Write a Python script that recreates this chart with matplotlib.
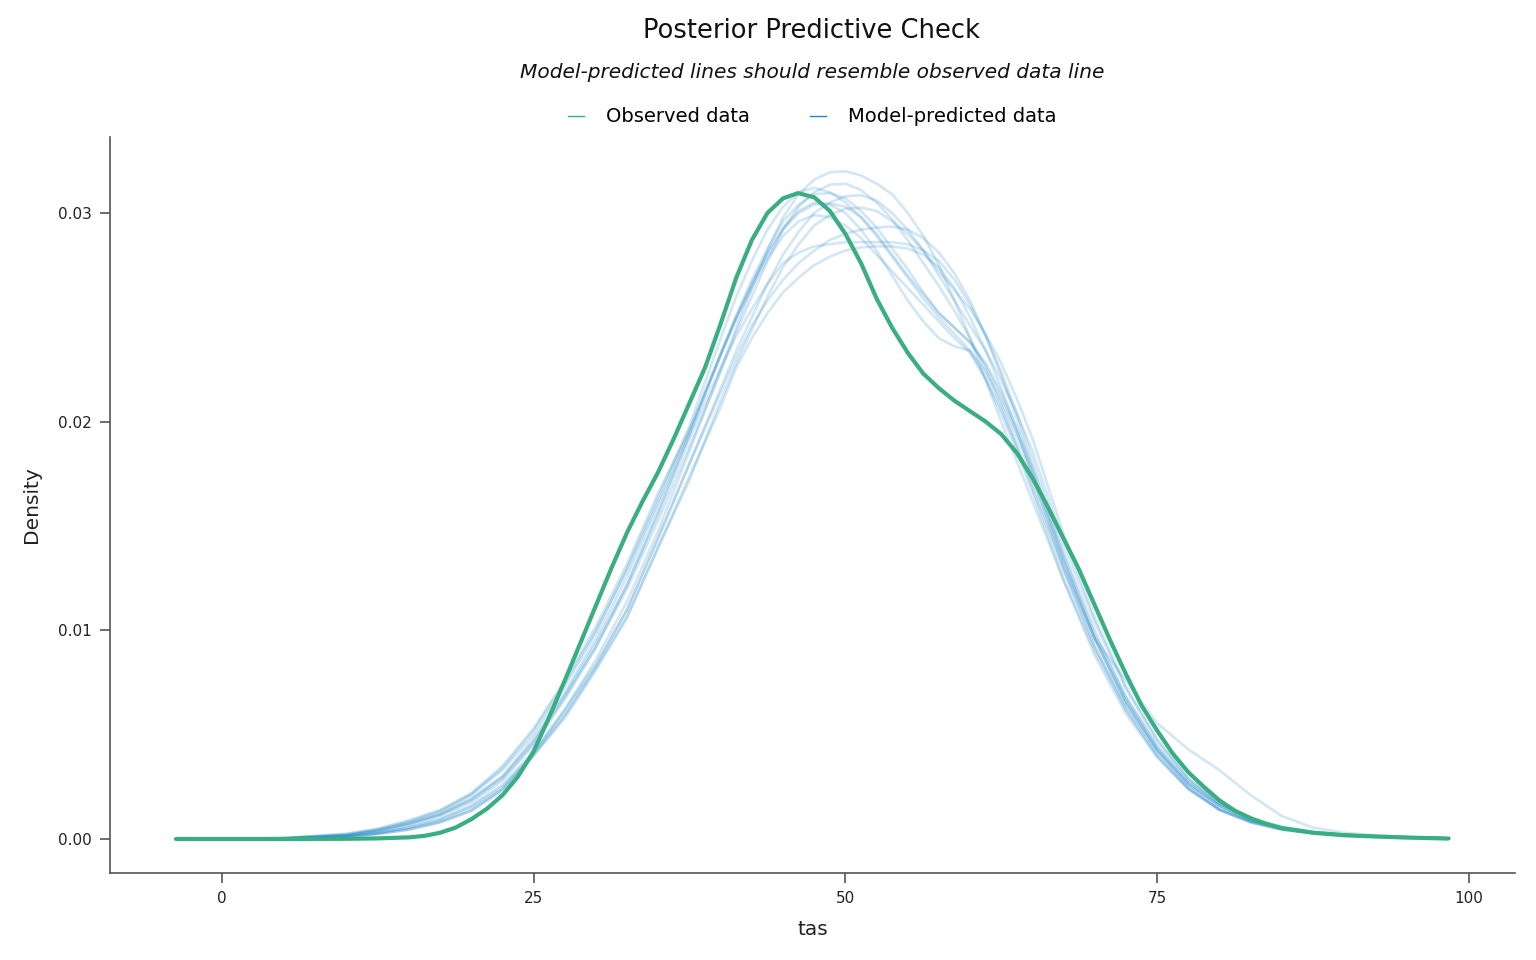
import matplotlib
matplotlib.use("Agg")
import matplotlib.pyplot as plt
from matplotlib.lines import Line2D

plt.rcParams['font.family'] = ['DejaVu Sans']

# ---- data (density values in units of 1e-3) ----
obs_x = [-3.7, 0, 5, 10, 12.5, 15, 16.25, 17.5, 18.75, 20, 21.25, 22.5, 23.75, 25, 26.25,
         27.5, 28.75, 30, 31.25, 32.5, 33.75, 35, 36.25, 37.5, 38.75, 40, 41.25, 42.5,
         43.75, 45, 46.2, 47.5, 48.75, 50, 51.25, 52.5, 53.75, 55, 56.25, 57.5, 58.75, 60,
         61.25, 62.5, 63.75, 65, 66.25, 67.5, 68.75, 70, 71.25, 72.5, 73.75, 75, 76.25,
         77.5, 78.75, 80, 81.25, 82.5, 83.75, 85, 87.5, 90, 92.5, 95, 98.4]
obs_y = [0, 0, 0, 0.01, 0.03, 0.08, 0.15, 0.3, 0.55, 0.95, 1.45, 2.1, 3.0, 4.2, 5.85,
         7.6, 9.4, 11.2, 13.0, 14.7, 16.2, 17.6, 19.2, 20.9, 22.6, 24.7, 26.9, 28.7,
         30.0, 30.7, 30.95, 30.75, 30.1, 29.0, 27.6, 25.9, 24.5, 23.3, 22.3, 21.6, 21.0, 20.5,
         20.0, 19.4, 18.5, 17.3, 15.9, 14.4, 12.9, 11.2, 9.5, 7.9, 6.4, 5.2, 4.1,
         3.2, 2.5, 1.85, 1.35, 1.0, 0.72, 0.52, 0.3, 0.18, 0.12, 0.07, 0.02]

pred_x = [-3.7, 0, 5, 10, 12.5, 15, 17.5, 20, 22.5, 25, 27.5, 30, 32.5, 35, 37.5,
          40, 41.25, 42.5, 43.75, 45, 46.25, 47.5, 48.75, 50, 51.25, 52.5, 53.75, 55,
          56.25, 57.5, 58.75, 60, 61.25, 62.5, 63.75, 65,
          67.5, 70, 72.5, 75, 77.5, 80, 82.5, 85, 87.5, 90, 92.5, 95, 98.4]

pred_1 = [0, 0, 0.02, 0.12, 0.27, 0.5, 0.85, 1.45, 2.4, 4.1, 6.2, 8.6, 11.4, 14.8, 18.6,
          22.5, 24.5, 26.4, 28.2, 29.8, 30.9, 31.6, 31.95, 32.0, 31.8, 31.4, 30.9, 30.0,
          28.9, 27.5, 25.8, 24.0, 22.0, 20.0, 18.1, 16.2,
          12.4, 9.0, 6.2, 4.0, 2.4, 1.4, 0.8, 0.45, 0.28, 0.18, 0.12, 0.07, 0.03]
pred_2 = [0, 0, 0.03, 0.17, 0.38, 0.7, 1.15, 1.85, 2.9, 4.6, 6.8, 9.2, 12.0, 15.3, 18.8,
          22.4, 24.3, 26.0, 27.7, 29.2, 30.3, 31.0, 31.35, 31.4, 31.1, 30.5, 29.7, 28.7,
          27.6, 26.5, 25.3, 24.0, 22.5, 20.8, 18.9, 17.0,
          13.0, 9.6, 6.6, 4.3, 2.7, 1.6, 0.9, 0.5, 0.3, 0.2, 0.13, 0.08, 0.03]
pred_3 = [0, 0, 0.04, 0.2, 0.43, 0.8, 1.3, 2.1, 3.3, 5.0, 7.3, 9.9, 13.0, 16.4, 19.8,
          24.0, 26.0, 27.7, 29.2, 30.3, 31.0, 31.2, 31.0, 30.5, 29.8, 28.9, 27.9, 26.9,
          25.9, 25.0, 24.2, 23.4, 22.1, 20.6, 18.8, 16.8,
          12.8, 9.2, 6.4, 4.2, 2.6, 1.6, 0.9, 0.55, 0.33, 0.2, 0.13, 0.08, 0.03]
pred_4 = [0, 0, 0.03, 0.16, 0.35, 0.65, 1.1, 1.75, 2.8, 4.5, 6.7, 9.2, 12.2, 15.7, 19.4,
          23.2, 25.1, 26.8, 28.3, 29.6, 30.4, 30.9, 30.95, 30.7, 30.1, 29.3, 28.3, 27.3,
          26.2, 25.2, 24.5, 23.8, 22.8, 21.4, 19.7, 17.8,
          13.6, 9.8, 6.8, 4.5, 2.8, 1.7, 1.0, 0.55, 0.32, 0.2, 0.13, 0.08, 0.03]
pred_5 = [0, 0, 0.02, 0.13, 0.3, 0.55, 0.95, 1.6, 2.6, 4.2, 6.2, 8.4, 11.0, 14.4, 18.0,
          21.6, 23.4, 25.0, 26.6, 28.0, 29.1, 30.0, 30.5, 30.8, 30.85, 30.6, 30.0, 29.2,
          28.2, 27.0, 25.8, 24.6, 23.4, 22.0, 20.4, 18.6,
          14.2, 10.4, 7.2, 4.7, 2.9, 1.7, 1.0, 0.55, 0.33, 0.2, 0.13, 0.08, 0.03]
pred_6 = [0, 0, 0.02, 0.1, 0.24, 0.45, 0.8, 1.35, 2.3, 4.0, 5.9, 8.2, 10.7, 14.0, 17.2,
          21.0, 22.8, 24.4, 26.0, 27.4, 28.5, 29.4, 29.9, 30.2, 30.25, 30.1, 29.6, 29.0,
          28.2, 27.2, 26.3, 25.4, 24.2, 22.8, 21.1, 19.2,
          14.6, 10.6, 7.3, 4.8, 2.9, 1.7, 1.0, 0.6, 0.35, 0.22, 0.14, 0.09, 0.03]
pred_7 = [0, 0, 0.05, 0.25, 0.5, 0.9, 1.4, 2.2, 3.5, 5.3, 7.6, 10.2, 13.2, 16.6, 19.6,
          23.2, 24.9, 26.4, 27.8, 28.9, 29.6, 29.9, 29.8, 29.4, 28.8, 28.0, 27.2, 26.4,
          25.6, 24.8, 24.0, 23.3, 22.0, 20.4, 18.6, 16.6,
          12.4, 8.8, 6.0, 3.9, 2.4, 1.4, 0.85, 0.5, 0.3, 0.2, 0.12, 0.07, 0.03]
pred_8 = [0, 0, 0.02, 0.12, 0.28, 0.55, 0.95, 1.55, 2.5, 4.1, 6.0, 8.3, 11.0, 14.5, 18.0,
          21.4, 23.1, 24.6, 25.8, 26.8, 27.6, 28.2, 28.7, 29.0, 29.2, 29.3, 29.35, 29.2,
          28.8, 28.1, 27.1, 25.8, 24.1, 22.2, 20.1, 17.8,
          13.4, 9.6, 6.5, 4.2, 2.5, 1.4, 0.8, 0.45, 0.28, 0.18, 0.12, 0.07, 0.03]
pred_9 = [0, 0, 0.03, 0.18, 0.4, 0.75, 1.2, 1.9, 3.0, 4.7, 6.9, 9.4, 12.2, 15.6, 19.2,
          22.6, 24.1, 25.4, 26.6, 27.6, 28.1, 28.4, 28.5, 28.6, 28.6, 28.6, 28.6, 28.5,
          28.2, 27.7, 26.8, 25.6, 24.1, 22.4, 20.4, 18.2,
          13.8, 10.0, 6.8, 4.4, 2.7, 1.6, 0.9, 0.5, 0.3, 0.2, 0.13, 0.08, 0.03]
pred_10 = [0, 0, 0.02, 0.1, 0.24, 0.45, 0.8, 1.35, 2.4, 4.0, 5.8, 8.1, 10.6, 14.0, 17.4,
           20.7, 22.6, 24.0, 25.2, 26.2, 26.9, 27.5, 27.9, 28.2, 28.35, 28.4, 28.4, 28.3,
           28.0, 27.4, 26.4, 25.0, 23.4, 21.6, 19.6, 17.4,
           13.0, 9.2, 6.2, 4.0, 2.4, 1.4, 0.8, 0.45, 0.28, 0.18, 0.12, 0.07, 0.03]
pred_11 = [0, 0, 0.03, 0.19, 0.42, 0.75, 1.2, 1.95, 3.0, 4.8, 7.0, 9.6, 12.6, 16.0, 19.4,
           23.2, 25.0, 26.6, 28.1, 29.3, 30.1, 30.5, 30.4, 30.0, 29.2, 28.2, 27.0, 25.8,
           24.8, 24.0, 23.6, 23.4, 22.4, 21.0, 19.3, 17.4,
           13.2, 9.6, 7.6, 5.55, 4.3, 3.3, 2.1, 1.1, 0.55, 0.3, 0.18, 0.1, 0.04]
pred_12 = [0, 0, 0.05, 0.24, 0.48, 0.85, 1.35, 2.15, 3.4, 5.2, 7.5, 10.0, 12.9, 16.2, 19.6,
           23.3, 25.0, 26.6, 28.0, 29.2, 30.0, 30.4, 30.45, 30.3, 29.8, 29.0, 28.0, 27.0,
           26.1, 25.2, 24.5, 23.8, 22.7, 21.2, 19.5, 17.6,
           13.4, 9.6, 6.6, 4.3, 2.6, 1.5, 0.85, 0.5, 0.3, 0.2, 0.12, 0.07, 0.03]

pred_series = [pred_1, pred_2, pred_3, pred_4, pred_5, pred_6,
               pred_7, pred_8, pred_9, pred_10, pred_11, pred_12]
scale = 1e-3

x_ticks = [0, 25, 50, 75, 100]
y_ticks = [0.00, 0.01, 0.02, 0.03]

title = "Posterior Predictive Check"
subtitle = "Model-predicted lines should resemble observed data line"
legend_labels = ["Observed data", "Model-predicted data"]

GREEN = "#3aae83"
BLUE = "#1f86c6"

fig = plt.figure(figsize=(15.36, 9.6), dpi=100)
ax = fig.add_axes([0.0716, 0.0906, 0.9147, 0.7667])

for s in pred_series:
    ax.plot(pred_x, [v * scale for v in s], color=BLUE, alpha=0.2, lw=1.9,
            solid_joinstyle='round')
ax.plot(obs_x, [v * scale for v in obs_y], color=GREEN, lw=3.0,
        solid_joinstyle='round', solid_capstyle='butt')

ax.set_xlim(-8.98, 103.7)
ax.set_ylim(-0.00163, 0.03364)
ax.set_xticks(x_ticks)
ax.set_yticks(y_ticks)
ax.set_xticklabels([str(t) for t in x_ticks])
ax.set_yticklabels([f"{t:.2f}" for t in y_ticks])

for side in ['top', 'right']:
    ax.spines[side].set_visible(False)
for side in ['left', 'bottom']:
    ax.spines[side].set_color('#555555')
    ax.spines[side].set_linewidth(1.2)
ax.tick_params(axis='both', direction='out', length=7, width=1.2, color='#555555',
               labelsize=11, labelcolor='#222222', pad=6)

ax.set_xlabel("tas", fontsize=14.5, color='#222222', labelpad=10)
ax.set_ylabel("Density", fontsize=14.5, color='#222222', labelpad=12)

cx = 0.5286
fig.text(cx, 1 - 31 / 960, title, ha='center', va='center', fontsize=18.5, color='#111111')
fig.text(cx, 1 - 73 / 960, subtitle, ha='center', va='center', fontsize=14.5,
         style='italic', color='#111111')

handles = [Line2D([0], [0], color=GREEN, lw=1.0),
           Line2D([0], [0], color=BLUE, lw=1.0)]
fig.legend(handles, legend_labels, loc='center',
           bbox_to_anchor=(cx, 1 - 117 / 960), ncol=2, frameon=False, fontsize=14,
           handlelength=0.85, handletextpad=1.1, columnspacing=3.1)

fig.savefig("out.png", dpi=100)
